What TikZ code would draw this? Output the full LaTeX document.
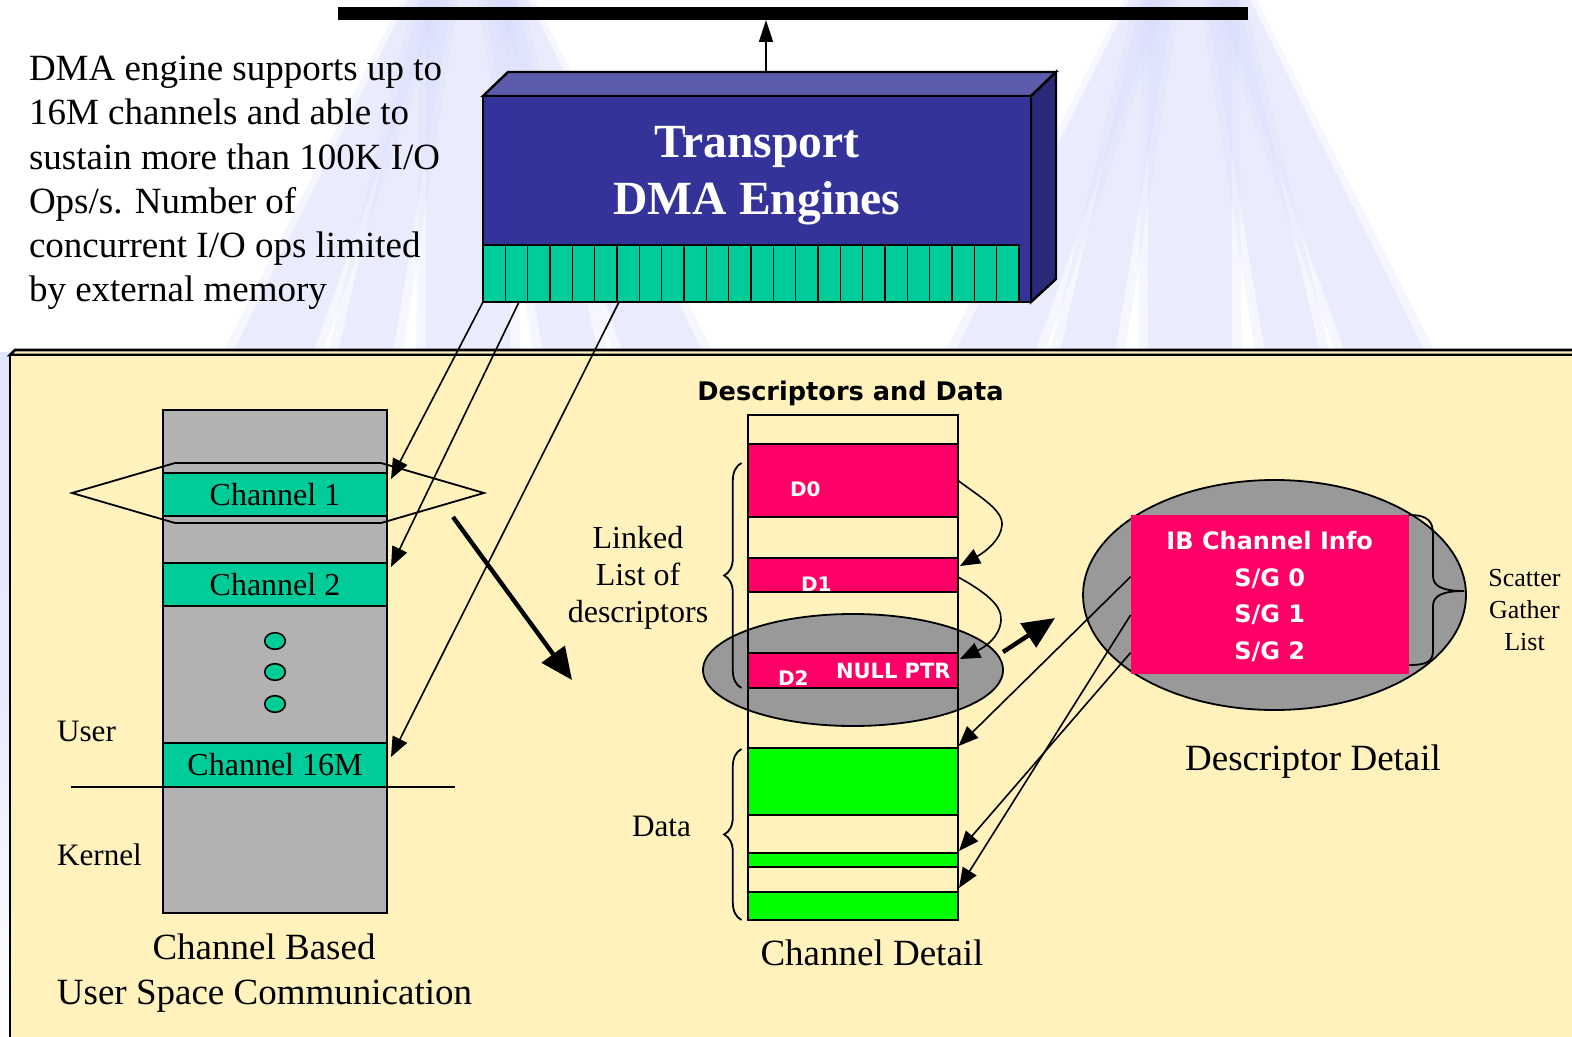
\documentclass[tikz,border=0pt]{standalone}
\usepackage{fontspec}
\setmainfont{Liberation Serif}
\newfontfamily\heavysans{DejaVu Sans}
\usetikzlibrary{arrows.meta,decorations.pathreplacing,shapes.geometric,calc}

\definecolor{lav}{RGB}{214,218,252}
\definecolor{panelyellow}{RGB}{255,242,189}
\definecolor{dmafront}{RGB}{51,51,153}
\definecolor{dmatop}{RGB}{92,92,172}
\definecolor{dmaside}{RGB}{42,42,122}
\definecolor{chgreen}{RGB}{0,204,153}
\definecolor{datagreen}{RGB}{0,255,0}
\definecolor{descpink}{RGB}{255,0,102}
\definecolor{stackgrey}{RGB}{178,178,178}
\definecolor{ovalgrey}{RGB}{153,153,153}

% one strip of a background fan, drawn with a soft edge
\newcommand\lavstrip[4]{%
  \fill[lav,fill opacity=0.22] ({#1-6},-5) -- ({#2+6},-5) -- ({#4+10},352) -- ({#3-10},352) -- cycle;
  \fill[lav,fill opacity=0.35] (#1,-5) -- (#2,-5) -- (#4,352) -- (#3,352) -- cycle;}
% one fan of light strips in the page background
\newcommand\drawlavfan[1]{%
  \begin{scope}[shift={(#1,0)}]
    \lavstrip{-42}{42}{-42}{42}
    \lavstrip{15}{48}{75}{130}
    \lavstrip{25}{58}{155}{235}
    \lavstrip{-48}{-15}{-130}{-75}
    \lavstrip{-58}{-25}{-235}{-155}
  \end{scope}}

\tikzset{
  boxline/.style={draw=black,line width=0.9pt},
  txt/.style={inner sep=0pt,outer sep=0pt,anchor=base},
  notefont/.style={font=\fontsize{18.5}{22}\selectfont},
  capfont/.style={font=\fontsize{18.5}{22}\selectfont},
  midfont/.style={font=\fontsize{16}{19}\selectfont},
  heavyfont/.style={font=\heavysans\bfseries\fontsize{#1}{#1}\selectfont},
  chanbox/.style={boxline,fill=chgreen,inner sep=0pt,outer sep=0pt,
    minimum width=112pt,minimum height=21.5pt,font=\fontsize{16}{19}\selectfont},
  rowbox/.style={boxline,inner sep=0pt,outer sep=0pt,minimum width=105pt,anchor=north west},
  thintip/.style={line width=0.8pt,-{Triangle[length=10pt,width=8pt]}},
  fattip/.style={line width=2.2pt,-{Triangle[length=16pt,width=14pt]}},
}

\begin{document}
\begin{tikzpicture}[x=0.5pt,y=-0.5pt]
\useasboundingbox (0,0) rectangle (1572,1037);
\fill[white] (0,0) rectangle (1572,1037);

% background fans
\drawlavfan{468}
\drawlavfan{1190}
\shade[top color=lav!70,bottom color=white,middle color=lav!55] (0,352) rectangle (10,1037);

% system bus
\node[fill=black,inner sep=0pt,outer sep=0pt,minimum width=455pt,minimum height=6.5pt] (bus) at (793,13.5) {};

% DMA engine block
\fill[dmatop,draw=black,line width=1.2pt] (483,96) -- (508,72) -- (1056,72) -- (1031,96) -- cycle;
\fill[dmaside,draw=black,line width=1.2pt] (1031,96) -- (1056,72) -- (1056,279) -- (1031,302) -- cycle;
\node[fill=dmafront,draw=black,line width=1.2pt,inner sep=0pt,outer sep=0pt,
      minimum width=274pt,minimum height=103pt,anchor=north west] (dma) at (483,96) {};
\node[fill=chgreen,draw=black,line width=0.8pt,inner sep=0pt,outer sep=0pt,
      minimum width=268pt,minimum height=28.5pt,anchor=south west] (strip) at (483,302) {};
\foreach \k in {1,...,23}
  \draw[line width=0.7pt] ({483+\k*22.33},245) -- ({483+\k*22.33},302);
\node[txt,text=white,font=\bfseries\fontsize{23.8}{28}\selectfont] (dmat1) at (757,158) {Transport};
\node[txt,text=white,font=\bfseries\fontsize{23.8}{28}\selectfont] (dmat2) at (757,215) {DMA Engines};
\coordinate (dmaup) at (766,72);
\coordinate (busin) at (766,20);
\draw[line width=0.8pt,-{Triangle[length=11pt,width=7pt]}] (dmaup) -- (busin);

% note
\foreach \ln [count=\i] in {DMA engine supports up to, 16M channels and able to,
    sustain more than 100K I/O, Ops/s. Number of, concurrent I/O ops limited, by external memory}
  \node[txt,notefont,anchor=base west] (note\i) at (29,{80.5+44.3*(\i-1)}) {\ln};

% lower panel
\filldraw[fill=panelyellow,draw=black,line width=1.3pt] (10,355) -- (15,350) -- (1580,350) -- (1580,355) -- cycle;
\filldraw[fill=panelyellow,draw=black,line width=1.3pt] (10,1045) -- (10,355) -- (1580,355) -- (1580,1045);

% channel stack
\node[fill=stackgrey,boxline,inner sep=0pt,outer sep=0pt,minimum width=112pt,minimum height=251.5pt,
      anchor=north west] (stack) at (163,410) {};
\draw[line width=0.9pt] (72,493) -- (175,463) -- (381,463) -- (484,493) -- (381,523) -- (175,523) -- cycle;
\node[chanbox] (ch1) at (275,494.5) {Channel 1};
\node[chanbox] (ch2) at (275,584.5) {Channel 2};
\node[chanbox,minimum height=22pt] (ch16) at (275,765) {Channel 16M};
\foreach \yy [count=\i] in {641,672,704}
  \node[ellipse,draw,line width=0.8pt,fill=chgreen,inner sep=0pt,minimum width=10.3pt,minimum height=8.3pt] (dot\i) at (275,\yy) {};
\coordinate (ukl) at (71,787);
\coordinate (ukr) at (455,787);
\draw[line width=0.9pt] (ukl) -- (ukr);
\node[txt,anchor=base west,font=\fontsize{15.6}{18}\selectfont] (user) at (57,741) {User};
\node[txt,anchor=base west,font=\fontsize{15.6}{18}\selectfont] (kernel) at (57,865.5) {Kernel};
\node[txt,capfont] (cap1a) at (264,959) {Channel Based};
\node[txt,capfont] (cap1b) at (264.5,1004) {User Space Communication};

% DMA engine to channels
\coordinate (tapA) at (strip.south west);
\coordinate (tapB) at (519,302);
\coordinate (tapC) at (619,302);
\coordinate (ch1in) at (391,479);
\coordinate (ch2in) at (391,567);
\coordinate (ch16in) at (391,757);
\draw[thintip] (tapA) -- (ch1in);
\draw[thintip] (tapB) -- (ch2in);
\draw[thintip] (tapC) -- (ch16in);

% channel 1 expands to channel detail
\coordinate (c1out) at (453,517);
\coordinate (detin) at (572,680);
\draw[fattip] (c1out) -- (detin);

% channel detail
\node[txt,heavyfont=12.8] (ddtitle) at (850.5,400.7) {Descriptors and Data};
\node[ellipse,boxline,fill=ovalgrey,inner sep=0pt,outer sep=0pt,minimum width=150pt,minimum height=56pt] (d2oval) at (853,670) {};
\node[rowbox,minimum width=105pt,minimum height=252.5pt] (col) at (748,415) {};
\node[rowbox,fill=descpink,minimum height=36.5pt] (d0) at (748,444) {};
\node[rowbox,fill=descpink,minimum height=17pt] (d1) at (748,558) {};
\node[rowbox,fill=descpink,minimum height=17.5pt] (d2) at (748,653) {};
\node[rowbox,fill=datagreen,minimum height=33.5pt] (g1) at (748,748) {};
\node[rowbox,fill=datagreen,minimum height=7pt] (g2) at (748,853) {};
\node[rowbox,fill=datagreen,minimum height=14pt] (g3) at (748,892) {};
\node[txt,anchor=base west,text=white,heavyfont=10] (d0t) at (790,496) {D0};
\node[txt,anchor=base west,text=white,heavyfont=10] (d1t) at (801,591) {D1};
\node[txt,anchor=base west,text=white,heavyfont=10] (d2t) at (778,685) {D2};
\node[txt,anchor=base west,text=white,heavyfont=10.5] (nullt) at (836,678) {NULL PTR};

% descriptor chain
\coordinate (d1in) at (960,566);
\coordinate (d2in) at (960,659);
\draw[thintip] (d0.east) .. controls (980,497) and (1003,510) .. (1002,525)
               .. controls (1001,540) and (985,552) .. (d1in);
\draw[thintip] ($(d1.east)+(0,2)$) .. controls (985,592) and (1002,605) .. (1001,620)
               .. controls (1000,637) and (985,647) .. (d2in);

% braces
\draw[line width=0.9pt,decorate,decoration={brace,amplitude=8.7pt}] (741.5,688) -- (741.5,463);
\draw[line width=0.9pt,decorate,decoration={brace,amplitude=8.7pt}] (741.5,920) -- (741.5,749);
\node[txt,midfont] (ll1) at (638,548) {Linked};
\node[txt,midfont] (ll2) at (638,585.5) {List of};
\node[txt,midfont] (ll3) at (638,622) {descriptors};
\node[txt,anchor=base west,font=\fontsize{15.6}{18}\selectfont] (datat) at (632,836.5) {Data};
\node[txt,capfont] (cap2) at (872,965) {Channel Detail};

% D2 expands to descriptor detail
\coordinate (ovout) at (1003,652);
\coordinate (descin) at (1055,618);
\draw[fattip] (ovout) -- (descin);

% descriptor detail
\node[ellipse,boxline,fill=ovalgrey,inner sep=0pt,outer sep=0pt,minimum width=191.5pt,minimum height=115pt] (detoval) at (1274.5,595) {};
\node[fill=descpink,inner sep=0pt,outer sep=0pt,minimum width=139.1pt,minimum height=79.6pt] (desc) at (1269.7,594.6) {};
\node[txt,text=white,heavyfont=12] (ibt) at (1269.7,549) {IB Channel Info};
\node[txt,text=white,heavyfont=12] (sg0) at (1269.7,586) {S/G 0};
\node[txt,text=white,heavyfont=12] (sg1) at (1269.7,622.7) {S/G 1};
\node[txt,text=white,heavyfont=12] (sg2) at (1269.7,659) {S/G 2};
\draw[line width=0.9pt] (desc.north east) .. controls (1428,515) and (1433,521) .. (1433,535)
   -- (1433,576) .. controls (1433,586) and (1442,591) .. (1464,591)
   .. controls (1442,591) and (1433,596) .. (1433,606)
   -- (1433,650) .. controls (1433,661) and (1428,665) .. (1409,665);
\node[txt,font=\fontsize{13}{16}\selectfont] (sgl1) at (1524.5,586.5) {Scatter};
\node[txt,font=\fontsize{13}{16}\selectfont] (sgl2) at (1524.5,618) {Gather};
\node[txt,font=\fontsize{13}{16}\selectfont] (sgl3) at (1524.5,650) {List};
\node[txt,capfont] (cap3) at (1313,770) {Descriptor Detail};

% scatter/gather entries point into the data buffers
\coordinate (sg0out) at (1130.6,576.7);
\coordinate (sg1out) at (1130.6,615);
\coordinate (sg2out) at (1130.6,652.7);
\coordinate (g1in) at (958.5,746);
\coordinate (g2in) at (959,851);
\coordinate (g3in) at (959,888);
\draw[thintip] (sg0out) -- (g1in);
\draw[thintip] (sg1out) -- (g3in);
\draw[thintip] (sg2out) -- (g2in);
\end{tikzpicture}
\end{document}
